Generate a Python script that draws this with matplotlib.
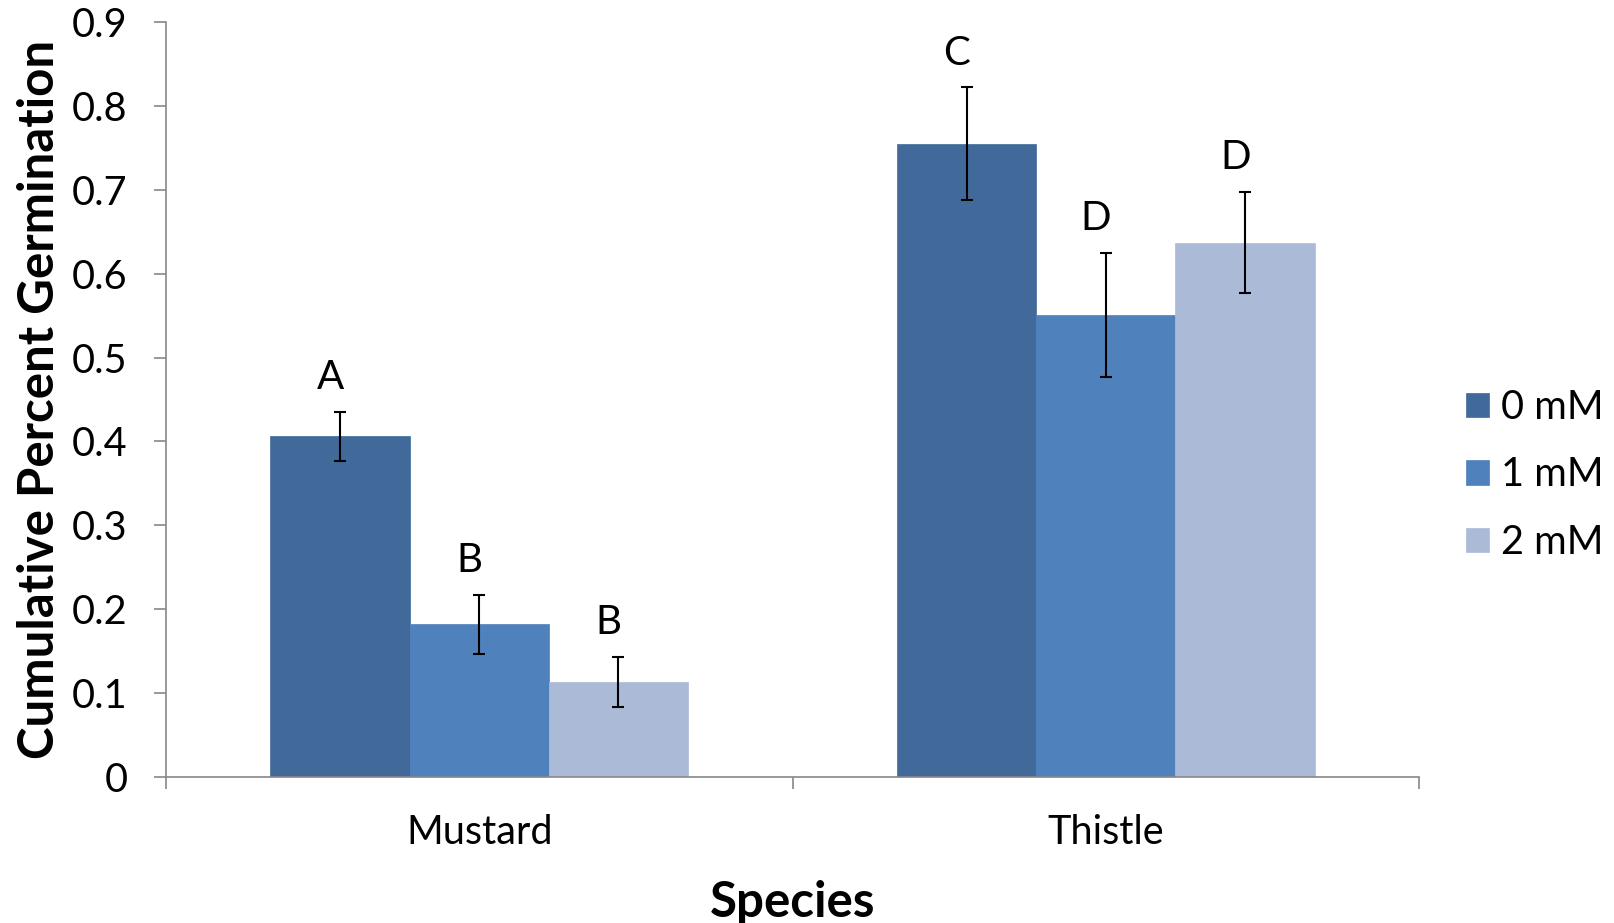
import matplotlib
matplotlib.use("Agg")
import matplotlib.pyplot as plt
import numpy as np

plt.rcParams['font.family'] = ['Lato', 'DejaVu Sans']

species = ["Mustard", "Thistle"]
treatments = ["0 mM", "1 mM", "2 mM"]
means = {
    "0 mM": [0.406, 0.755],
    "1 mM": [0.182, 0.551],
    "2 mM": [0.113, 0.637],
}
errors = {
    "0 mM": [0.029, 0.067],
    "1 mM": [0.035, 0.074],
    "2 mM": [0.030, 0.060],
}
letters = {
    "0 mM": ["A", "C"],
    "1 mM": ["B", "D"],
    "2 mM": ["B", "D"],
}
colors = ["#416A9B", "#4F81BD", "#AABAD7"]
yticks = [0, 0.1, 0.2, 0.3, 0.4, 0.5, 0.6, 0.7, 0.8, 0.9]

W, H = 1614, 923
fig = plt.figure(figsize=(W / 100, H / 100), dpi=100)
ax = fig.add_axes([166 / W, (H - 777) / H, (1419 - 166) / W, 755 / H])

x = np.arange(len(species))
bw = 1 / 4.5
offsets = [-bw, 0, bw]
axis_col = "#888888"
fs_tick = 28.5

for t, off, c in zip(treatments, offsets, colors):
    ax.bar(x + off, means[t], width=bw, color=c, edgecolor=c, linewidth=0.5,
           label=t, zorder=2)
    ax.errorbar(x + off, means[t], yerr=errors[t], fmt='none', ecolor='black',
                elinewidth=1.5, capsize=4.5, capthick=1.5, zorder=3)
    for xi, m, e, L in zip(x + off, means[t], errors[t], letters[t]):
        ax.annotate(L, (xi, m + e), xytext=(-7, 16.5), textcoords='offset points',
                    ha='center', va='baseline', fontsize=29, color='black')

ax.set_xlim(-0.5, len(species) - 0.5)
ax.set_ylim(0, 0.9)
ax.set_yticks(yticks)
ax.set_yticklabels([("%g" % v) for v in yticks], fontsize=fs_tick)
ax.set_xticks(x)
ax.set_xticklabels(species, fontsize=fs_tick)
ax.set_xticks(np.arange(-0.5, len(species), 1.0), minor=True)
ax.tick_params(axis='x', which='major', length=0, pad=27)
ax.tick_params(axis='x', which='minor', length=8.6, width=1.2, color=axis_col, direction='out')
ax.tick_params(axis='y', which='major', length=8.6, width=1.2, color=axis_col, direction='out', pad=19)

for s in ['top', 'right']:
    ax.spines[s].set_visible(False)
for s in ['left', 'bottom']:
    ax.spines[s].set_color(axis_col)
    ax.spines[s].set_linewidth(1.2)

ax.set_ylabel("Cumulative Percent Germination", fontsize=35.5, fontweight='bold')
ax.yaxis.set_label_coords(-0.083, 0.5)
ax.set_xlabel("Species", fontsize=35.5, fontweight='bold')
ax.xaxis.set_label_coords(0.5, -0.137)

fig.legend(loc='center left', bbox_to_anchor=(1466 / W, (H - 475) / H),
           frameon=False, fontsize=fs_tick, handlelength=0.58, handleheight=0.58,
           handletextpad=0.3, labelspacing=0.77, borderpad=0, borderaxespad=0)

fig.savefig("out.png", dpi=100)
